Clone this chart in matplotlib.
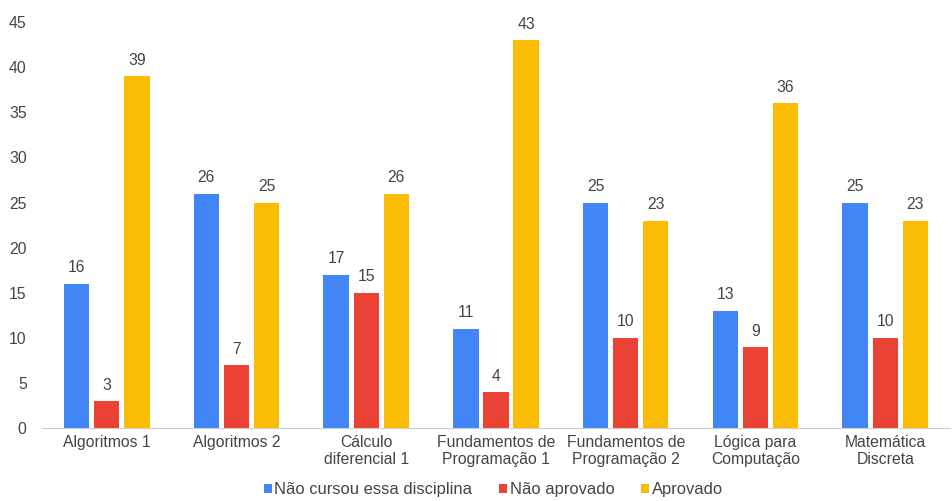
import matplotlib
matplotlib.use("Agg")
import matplotlib.pyplot as plt
import numpy as np

plt.rcParams['font.family'] = ['Liberation Sans', 'DejaVu Sans']

categories = ["Algoritmos 1", "Algoritmos 2", "Cálculo\ndiferencial 1",
              "Fundamentos de\nProgramação 1", "Fundamentos de\nProgramação 2",
              "Lógica para\nComputação", "Matemática\nDiscreta"]
nao_cursou = [16, 26, 17, 11, 25, 13, 25]
nao_aprovado = [3, 7, 15, 4, 10, 9, 10]
aprovado = [39, 25, 26, 43, 23, 36, 23]
series_names = ["Não cursou essa disciplina", "Não aprovado", "Aprovado"]
colors = ["#4285F4", "#EA4335", "#FBBC04"]
yticks = [0, 5, 10, 15, 20, 25, 30, 35, 40, 45]

fig = plt.figure(figsize=(9.52, 5.01), dpi=100)
ax = fig.add_axes([0.044, 0.1457, 0.954, 0.81])

x = np.arange(len(categories))
w = 0.195
offs = [-0.232, 0.0, 0.232]
fs = 11.3
txtc = "#444444"
for vals, off, c, name in zip([nao_cursou, nao_aprovado, aprovado], offs, colors, series_names):
    bars = ax.bar(x + off, vals, width=w, color=c, label=name, zorder=3)
    for b, v in zip(bars, vals):
        ax.annotate(str(v), (b.get_x() + b.get_width() / 2, v), xytext=(0, 6),
                    textcoords="offset points", ha="center", va="bottom",
                    fontsize=fs, color=txtc)

ax.set_xlim(-0.5, len(categories) - 0.5)
ax.set_ylim(0, 45)
ax.set_yticks(yticks)
ax.set_xticks(x)
ax.set_xticklabels(categories, fontsize=fs, color=txtc, linespacing=1.15)
ax.tick_params(axis='y', labelsize=fs, labelcolor=txtc, length=0, pad=11)
ax.tick_params(axis='x', length=0, pad=5)
for s in ["top", "right", "left"]:
    ax.spines[s].set_visible(False)
ax.spines["bottom"].set_color("#cccccc")

leg = fig.legend(loc="lower center", bbox_to_anchor=(0.518, -0.022), ncol=3, frameon=False,
                 fontsize=11.9, handlelength=0.5, handleheight=0.5, handletextpad=0.15,
                 columnspacing=1.6)
for t in leg.get_texts():
    t.set_color(txtc)

fig.savefig("out.png", dpi=100)
